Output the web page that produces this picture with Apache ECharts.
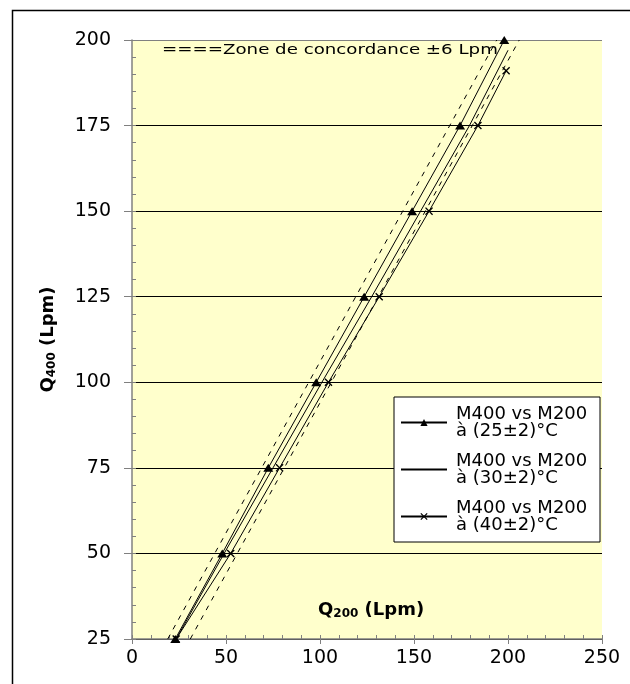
<!DOCTYPE html>
<html>
<head>
<meta charset="utf-8">
<script src="https://cdn.jsdelivr.net/npm/echarts@6/dist/echarts.min.js"></script>
<style>
  html, body { margin: 0; padding: 0; background: #ffffff; }
  #chart { width: 630px; height: 684px; }
</style>
</head>
<body>
<div id="chart"></div>
<script>
// Flow comparison Q400 vs Q200 (Lpm) at three temperatures
const seriesNames = [
  'M400 vs M200\nà (25±2)°C',
  'M400 vs M200\nà (30±2)°C',
  'M400 vs M200\nà (40±2)°C'
];

// 25 °C run (triangles)
const q200At25 = [23, 48, 72.5, 98, 123.5, 149, 174.5, 198];
const q400At25 = [25, 50, 75, 100, 125, 150, 175, 200];

// 30 °C run (plain line)
const q200At30 = [23.5, 49, 75, 101, 127.5, 153.5, 179.5, 200];
const q400At30 = [25, 50, 75, 100, 125, 150, 175, 197];

// 40 °C run (crosses)
const q200At40 = [23.5, 52.5, 78.5, 104.5, 131.5, 158, 184, 199];
const q400At40 = [25, 50, 75, 100, 125, 150, 175, 191];

// Agreement band: Q400 = Q200 ± 6 Lpm
const bandOffset = 6;
const bandQ400 = [25, 200];

// Axis ticks
const xTicks = [0, 50, 100, 150, 200, 250];
const yTicks = [25, 50, 75, 100, 125, 150, 175, 200];

const zoneTitle = '====Zone de concordance ±6 Lpm';

function pairs(xs, ys) { return xs.map((x, i) => [x, ys[i]]); }

const crossPath = 'path://M0,1.2L1.2,0L5,3.8L8.8,0L10,1.2L6.2,5L10,8.8L8.8,10L5,6.2L1.2,10L0,8.8L3.8,5Z';
const labelFont = 'DejaVu Sans';

const chart = echarts.init(document.getElementById('chart'), null, { renderer: 'canvas' });

const xStep = xTicks[1] - xTicks[0];
const yStep = yTicks[1] - yTicks[0];

const baseX = {
  type: 'value', gridIndex: 0, position: 'bottom',
  min: xTicks[0], max: xTicks[xTicks.length - 1], interval: xStep
};
const baseY = {
  type: 'value', gridIndex: 0, position: 'left',
  min: yTicks[0], max: yTicks[yTicks.length - 1], interval: yStep
};

const lineStyle = { color: '#000', width: 1 };
const bandStyle = { color: '#000', width: 1, type: [5, 6] };

const nameRich = {
  q: { fontFamily: labelFont, fontWeight: 'bold', fontSize: 18, color: '#000', fill: '#000' },
  s: { fontFamily: labelFont, fontWeight: 'bold', fontSize: 12, color: '#000', fill: '#000', padding: [7, 0, 0, 0] }
};

chart.setOption({
  animation: false,
  backgroundColor: '#ffffff',
  grid: {
    left: 132, top: 40, right: 28, bottom: 45,
    show: true, backgroundColor: '#FFFFCC', borderWidth: 0
  },
  xAxis: [
    Object.assign({}, baseX, {
      axisLine: { lineStyle: { color: '#808080', width: 1.5 } },
      axisTick: { inside: true, length: 4, lineStyle: { color: '#808080' } },
      minorTick: { show: true, splitNumber: 5, length: 4, lineStyle: { color: '#808080' } },
      axisLabel: { color: '#000', fontFamily: labelFont, fontSize: 19, margin: 10 },
      splitLine: { show: false }
    }),
    Object.assign({}, baseX, {
      axisLine: { show: false },
      axisTick: { inside: false, length: 5, lineStyle: { color: '#808080' } },
      axisLabel: { show: false },
      splitLine: { show: false }
    })
  ],
  yAxis: [
    Object.assign({}, baseY, {
      axisLine: { lineStyle: { color: '#808080', width: 1.5 } },
      axisTick: { inside: true, length: 4, lineStyle: { color: '#808080' } },
      minorTick: { show: true, splitNumber: 5, length: 4, lineStyle: { color: '#808080' } },
      axisLabel: { color: '#000', fontFamily: labelFont, fontSize: 19, margin: 21 },
      splitLine: {
        show: true,
        lineStyle: { color: ['#000', '#000', '#000', '#000', '#000', '#000', '#000', '#808080'], width: 1 }
      },
      name: '{q|Q}{s|400}{q| (Lpm)}',
      nameLocation: 'middle',
      nameRotate: 90,
      nameGap: 74,
      nameMoveOverlap: false,
      nameTextStyle: { rich: nameRich }
    }),
    Object.assign({}, baseY, {
      axisLine: { show: false },
      axisTick: { inside: false, length: 8, lineStyle: { color: '#808080' } },
      axisLabel: { show: false },
      splitLine: { show: false }
    })
  ],
  legend: {
    orient: 'vertical',
    left: 394, top: 397,
    padding: [8, 4, 8, 6],
    itemGap: 12,
    itemWidth: 46,
    itemHeight: 9,
    backgroundColor: '#ffffff',
    borderColor: '#000',
    borderWidth: 1,
    borderRadius: 0,
    data: [
      { name: seriesNames[0] },
      { name: seriesNames[1], itemStyle: { opacity: 0 } },
      { name: seriesNames[2] }
    ],
    textStyle: { color: '#000', fontFamily: labelFont, fontSize: 18, lineHeight: 17, width: 140, padding: [0, 0, 0, 4] }
  },
  graphic: [
    {
      type: 'polyline', z: 100, silent: true,
      shape: { points: [[12.5, 720], [12.5, 10.5], [720, 10.5]] },
      style: { fill: 'none', stroke: '#000', lineWidth: 1.5 }
    },
    {
      type: 'text', x: 162, y: 43, scaleX: 1.3, z: 50,
      style: { text: zoneTitle, fill: '#000', font: '14px "DejaVu Sans"' }
    },
    {
      type: 'text', left: 318, top: 601, z: 50,
      style: { text: '{q|Q}{s|200}{q| (Lpm)}', rich: nameRich }
    }
  ],
  series: [
    {
      name: seriesNames[0], type: 'line', data: pairs(q200At25, q400At25),
      symbol: 'triangle', symbolSize: [10, 8],
      itemStyle: { color: '#000' }, lineStyle: lineStyle, z: 5
    },
    {
      name: seriesNames[1], type: 'line', data: pairs(q200At30, q400At30),
      symbol: 'none', itemStyle: { color: '#000' }, lineStyle: lineStyle, z: 5
    },
    {
      name: seriesNames[2], type: 'line', data: pairs(q200At40, q400At40),
      symbol: crossPath, symbolSize: 8,
      itemStyle: { color: '#000' }, lineStyle: lineStyle, z: 5
    },
    {
      name: 'band-low', type: 'line', symbol: 'none', silent: true,
      data: pairs(bandQ400.map(v => v + bandOffset), bandQ400),
      lineStyle: bandStyle, z: 4
    },
    {
      name: 'band-high', type: 'line', symbol: 'none', silent: true,
      data: pairs(bandQ400.map(v => v - bandOffset), bandQ400),
      lineStyle: bandStyle, z: 4
    }
  ]
});
</script>
</body>
</html>
